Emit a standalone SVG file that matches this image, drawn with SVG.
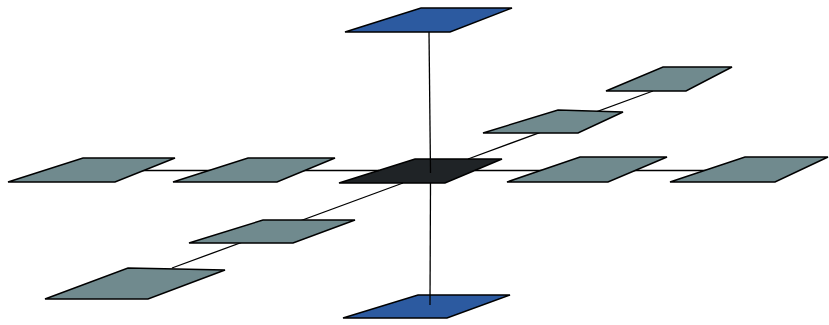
<svg xmlns="http://www.w3.org/2000/svg" width="829" height="325" viewBox="0 0 829 325">
<style>
.n{stroke:#000;stroke-width:1.5;stroke-linejoin:miter}
.g{fill:#708a8e}
.b{fill:#2c5aa0}
.k{fill:#1f2326}
.c{stroke:#000;stroke-width:1.3;fill:none}
</style>
<rect width="829" height="325" fill="#fff"/>
<g id="top"><polygon class="n b" points="345,32 450,32 512,8 421,8"/></g>
<g id="bottom"><polygon class="n b" points="343,318 447,318 510,295 418,295"/></g>
<g id="center"><polygon class="n k" points="339,183 445,183 502,159 415,159"/></g>
<g id="connectors">
<line class="c" x1="60" y1="170.5" x2="379" y2="170.5"/>
<line class="c" x1="475" y1="170.5" x2="780" y2="170.5"/>
<line class="c" x1="172" y1="268" x2="403" y2="183"/>
<line class="c" x1="468" y1="159" x2="653" y2="91"/>
<line class="c" x1="429" y1="32" x2="430.5" y2="173"/>
<line class="c" x1="430.5" y1="183" x2="430" y2="305"/>
</g>
<g id="left1"><polygon class="n g" points="8,182 115,182 175,158 83,158"/></g>
<g id="left2"><polygon class="n g" points="173,182 277,182 335,158 248,158"/></g>
<g id="right1"><polygon class="n g" points="507,182 608,182 667,157 580,157"/></g>
<g id="right2"><polygon class="n g" points="670,182 775,182 828,157 745,157"/></g>
<g id="upper1"><polygon class="n g" points="483,133 578,133 623,112 558,110"/></g>
<g id="upper2"><polygon class="n g" points="606,91 686,91 732,67 663,67"/></g>
<g id="lower1"><polygon class="n g" points="189,243 293,243 355,220 263,220"/></g>
<g id="lower2"><polygon class="n g" points="45,299 148,299 225,270 128,268"/></g>
</svg>
